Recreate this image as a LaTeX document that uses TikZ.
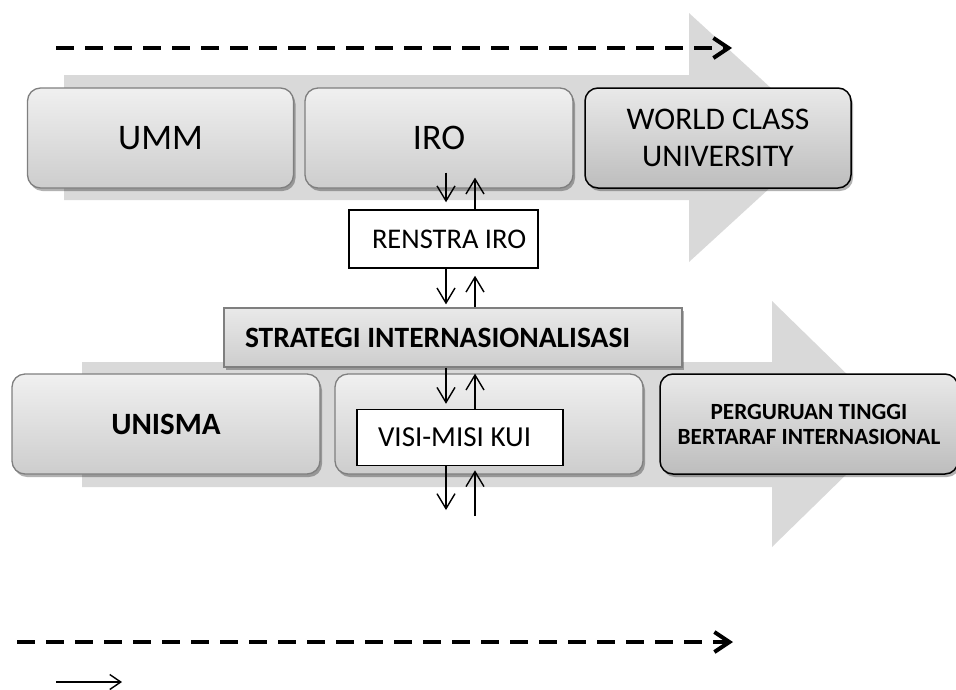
\documentclass[tikz,border=0pt]{standalone}
\usepackage{fontspec}
\setmainfont{Carlito}
\usetikzlibrary{arrows.meta,shadows,calc}
\definecolor{arrowgray}{HTML}{D9D9D9}
\definecolor{topgray}{HTML}{F0F0F0}
\definecolor{botgray}{HTML}{CDCDCD}
\definecolor{dtopgray}{HTML}{E9E9E9}
\definecolor{dbotgray}{HTML}{BDBDBD}
\definecolor{boxborder}{HTML}{7F7F7F}
\begin{document}
\begin{tikzpicture}[x=1pt,y=-1pt,
  bigarrow/.style={fill=arrowgray,draw=none},
  shadowed/.style={drop shadow={shadow xshift=2pt,shadow yshift=-3pt,opacity=0.3,fill=black}},
  softbox/.style={rectangle,rounded corners=13pt,draw=boxborder,line width=1.3pt,
    top color=topgray,bottom color=botgray,inner sep=0pt,align=center,shadowed},
  darkbox/.style={rectangle,rounded corners=13pt,draw=black,line width=1.5pt,
    top color=dtopgray,bottom color=dbotgray,inner sep=0pt,align=center,shadowed},
  whitebox/.style={rectangle,draw=black,line width=1.5pt,fill=white,inner sep=0pt},
  stratbox/.style={rectangle,draw=boxborder,line width=1.3pt,top color=dtopgray,
    bottom color=botgray,shadowed},
  thinarr/.style={line width=1.4pt,-{Straight Barb[length=15pt,width=18pt,line width=1.4pt]}},
  dasharr/.style={line width=4pt,dash pattern=on 18pt off 11pt,
    -{Straight Barb[length=15pt,width=20pt,line width=4pt]}},
  legarr/.style={line width=1.4pt,-{Straight Barb[length=11pt,width=15pt,line width=1.4pt]}}
]
\useasboundingbox (0,0) rectangle (956,689);

% big gray arrows
\fill[bigarrow] (64,75) -- (689,75) -- (689,13) -- (825,137.5) -- (689,262)
  -- (689,200) -- (64,200) -- cycle;
\fill[bigarrow] (82,362) -- (772,362) -- (772,301) -- (898,424) -- (772,547)
  -- (772,487) -- (82,487) -- cycle;

% top row
\node[softbox,minimum width=266pt,minimum height=100pt,
  font=\fontsize{36}{42}\selectfont] (umm) at (160.5,138) {UMM};
\node[softbox,minimum width=268pt,minimum height=100pt,
  font=\fontsize{36}{42}\selectfont] (iro) at (439,138) {IRO};
\node[darkbox,minimum width=266pt,minimum height=100pt,
  font=\fontsize{31.5}{37}\selectfont] (wcu) at (718,138) {WORLD CLASS\\UNIVERSITY};

\node[whitebox,minimum height=58pt,inner xsep=9pt,text width=171pt,align=flush left,
  font=\fontsize{28.5}{33}\selectfont] (renstra) at (443.5,239) {\hspace*{14pt}RENSTRA IRO};

% strategy bar
\node[stratbox,minimum height=59pt,inner xsep=21pt,inner ysep=0pt,text width=416pt,
  align=flush left,font=\bfseries\fontsize{29.5}{34}\selectfont] (strat) at (453,337.5)
  {STRATEGI INTERNASIONALISASI};

% bottom row
\node[softbox,minimum width=308pt,minimum height=100pt,
  font=\bfseries\fontsize{31}{37}\selectfont] (unisma) at (166,424) {UNISMA};
\node[softbox,minimum width=308pt,minimum height=100pt] (mid) at (489,424) {};
\node[darkbox,minimum width=298pt,minimum height=100pt,
  font=\bfseries\fontsize{23.2}{25}\selectfont] (pti) at (809,424)
  {PERGURUAN TINGGI\\BERTARAF INTERNASIONAL};
\node[whitebox,minimum height=56pt,inner xsep=21pt,text width=164pt,align=flush left,
  font=\fontsize{29}{34}\selectfont] (visi) at (460,437.5) {VISI-MISI KUI};

% vertical connectors
\coordinate (dnx) at (446,0);
\coordinate (upx) at (475,0);
\coordinate (dnend) at (446,510);
\coordinate (upstart) at (475,516);
\draw[thinarr] ($(dnx|-iro.south)+(0,-16)$) -- ($(dnx|-renstra.north)+(0,-7)$);
\draw[thinarr] (upx|-renstra.north) -- ($(upx|-iro.south)+(0,-11)$);
\draw[thinarr] (dnx|-renstra.south) -- ($(dnx|-strat.north)+(0,-3)$);
\draw[thinarr] (upx|-strat.north) -- ($(upx|-renstra.south)+(0,7)$);
\draw[thinarr] (dnx|-strat.south) -- ($(dnx|-visi.north)+(0,-5)$);
\draw[thinarr] (upx|-visi.north) -- ($(upx|-strat.south)+(0,6)$);
\draw[thinarr] (dnx|-visi.south) -- (dnend);
\draw[thinarr] (upstart) -- ($(upx|-visi.south)+(0,4)$);

% dashed arrows
\coordinate (d1s) at (56,48);
\coordinate (d1e) at (732,48);
\coordinate (d2s) at (17,642);
\coordinate (d2e) at (733,642);
\draw[dasharr] (d1s) -- (d1e);
\draw[dasharr] (d2s) -- (d2e);

% legend solid arrow
\coordinate (l1s) at (56,682);
\coordinate (l1e) at (122,682);
\draw[legarr] (l1s) -- (l1e);
\end{tikzpicture}
\end{document}
